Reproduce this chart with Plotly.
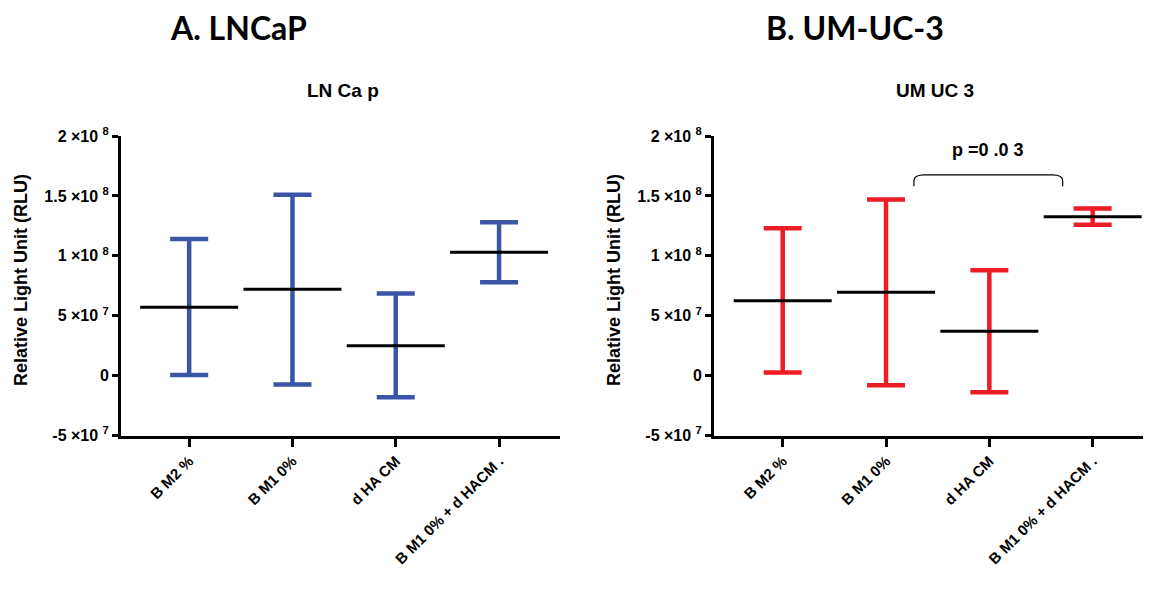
import plotly.graph_objects as go

categories = ["B M2 %", "B M1 0%", "d HA CM", "B M1 0% + d HACM ."]

# Panel A: LNCaP
lncap_mean = [57e6, 72e6, 25e6, 103e6]
lncap_high = [114e6, 151e6, 68.5e6, 128e6]
lncap_low = [0.5e6, -7.5e6, -18e6, 78e6]

# Panel B: UM-UC-3
umuc_mean = [62.5e6, 69.5e6, 37e6, 132.5e6]
umuc_high = [123e6, 147e6, 88e6, 139.5e6]
umuc_low = [2.5e6, -8e6, -14e6, 126e6]

ytick_vals = [-5e7, 0, 5e7, 1e8, 1.5e8, 2e8]
ytick_text = ["-5 ×10 <sup>7</sup>", "0", "5 ×10 <sup>7</sup>", "1 ×10 <sup>8</sup>",
              "1.5 ×10 <sup>8</sup>", "2 ×10 <sup>8</sup>"]

p_text = "p =0 .0 3"
bracket_from = 1.27
bracket_to = 2.71
bracket_top = 167.5e6
bracket_bottom = 158e6

BLUE = "#3A55A5"
RED = "#EE1D25"
FONT = "Arial, Liberation Sans, sans-serif"

W, H = 1151, 604
OX, OY = 8, 8  # page body margin offset


def px(x):
    return (x - OX) / W


def py(y):
    return 1 - (y - OY) / H


fig = go.Figure()
xs = list(range(len(categories)))


def add_panel(means, highs, lows, color, xa, ya):
    fig.add_trace(go.Scatter(
        x=xs, y=means, xaxis=xa, yaxis=ya, mode="markers",
        marker=dict(symbol="line-ew", size=70, color="black",
                    line=dict(color="black", width=3)),
        error_y=dict(type="data", symmetric=False,
                     array=[h - m for h, m in zip(highs, means)],
                     arrayminus=[m - l for m, l in zip(means, lows)],
                     color=color, thickness=4.5, width=19),
        showlegend=False, hoverinfo="skip", cliponaxis=False))


add_panel(lncap_mean, lncap_high, lncap_low, BLUE, "x", "y")
add_panel(umuc_mean, umuc_high, umuc_low, RED, "x2", "y2")

ydom = [py(435.5), py(136)]
xcommon = dict(tickmode="array", tickvals=xs, ticktext=[f"<b>{c}</b>" for c in categories],
               tickangle=-45, ticks="outside", ticklen=8, tickwidth=3, tickcolor="black",
               showline=True, linewidth=3, linecolor="black", showgrid=False, zeroline=False,
               tickfont=dict(family=FONT, size=15, color="black"), fixedrange=True,
               automargin=False)
ycommon = dict(range=[-5e7, 2e8], tickmode="array", tickvals=ytick_vals,
               ticktext=[f"<b>{t}</b>" for t in ytick_text],
               ticks="outside", ticklen=6, tickwidth=3, tickcolor="black",
               showline=True, linewidth=3, linecolor="black", showgrid=False, zeroline=False,
               tickfont=dict(family=FONT, size=16, color="black"), domain=ydom, fixedrange=True,
               automargin=False)

fig.update_layout(
    width=W, height=H, margin=dict(l=0, r=0, t=0, b=0, autoexpand=False),
    paper_bgcolor="white", plot_bgcolor="white",
    xaxis=dict(xcommon, domain=[px(121), px(560)], range=[-0.66, 3.59], anchor="y"),
    yaxis=dict(ycommon, anchor="x"),
    xaxis2=dict(xcommon, domain=[px(714), px(1150)], range=[-0.665, 3.555], anchor="y2"),
    yaxis2=dict(ycommon, anchor="x2"),
)

# bracket with rounded corners
r = 0.1
rh = 5e6
path = (f"M {bracket_from},{bracket_bottom} L {bracket_from},{bracket_top - rh} "
        f"Q {bracket_from},{bracket_top} {bracket_from + r},{bracket_top} "
        f"L {bracket_to - r},{bracket_top} "
        f"Q {bracket_to},{bracket_top} {bracket_to},{bracket_top - rh} "
        f"L {bracket_to},{bracket_bottom}")
fig.add_shape(type="path", path=path, xref="x2", yref="y2",
              line=dict(color="black", width=1.2))

fig.add_annotation(x=(bracket_from + bracket_to) / 2, y=py(150), xref="x2", yref="paper",
                   text="<b>" + p_text + "</b>", showarrow=False, xanchor="center",
                   yanchor="middle", font=dict(family=FONT, size=18, color="black"))

TITLE_FONT = "Lato, Liberation Sans, sans-serif"
for txt, x in [("A. LNCaP", 238), ("B. UM-UC-3", 855)]:
    fig.add_annotation(x=px(x), y=py(28), xref="paper", yref="paper",
                       text=f"<b>{txt}</b>", showarrow=False, xanchor="center", yanchor="middle",
                       font=dict(family=TITLE_FONT, size=32, color="black"))
for txt, x in [("LN Ca p", 343), ("UM UC 3", 935)]:
    fig.add_annotation(x=px(x), y=py(90), xref="paper", yref="paper",
                       text=f"<b>{txt}</b>", showarrow=False, xanchor="center", yanchor="middle",
                       font=dict(family=FONT, size=19, color="black"))
for x in [21, 614]:
    fig.add_annotation(x=px(x), y=py(280), xref="paper", yref="paper",
                       text="<b>Relative Light Unit (RLU)</b>", showarrow=False, textangle=-90,
                       xanchor="center", yanchor="middle",
                       font=dict(family=FONT, size=18, color="black"))

fig.write_html("out.html")
